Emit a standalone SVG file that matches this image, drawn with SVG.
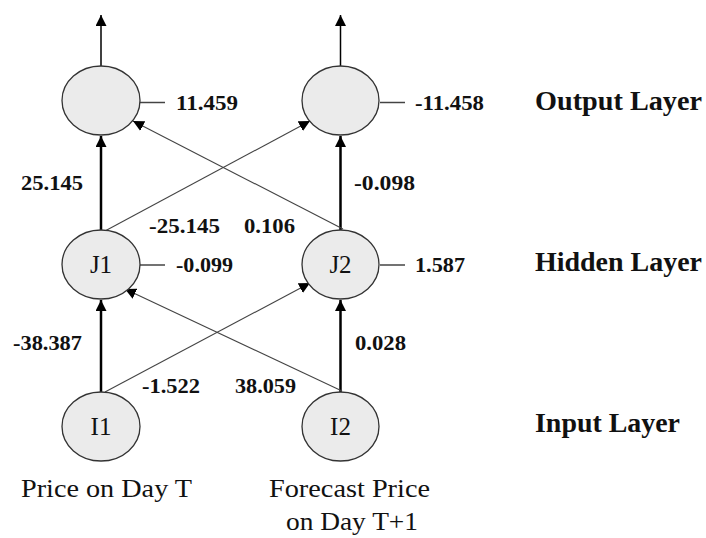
<svg xmlns="http://www.w3.org/2000/svg" width="706" height="538" viewBox="0 0 706 538">
<style>
.node{fill:#ebebeb;stroke:#333;stroke-width:1.3}
.lbl{font-family:'Liberation Serif','Times New Roman',serif;font-size:25px;fill:#111;text-anchor:middle}
.w{font-family:'Liberation Serif','Times New Roman',serif;font-size:21px;font-weight:bold;fill:#111}
.layer{font-family:'Liberation Serif','Times New Roman',serif;font-size:27px;font-weight:bold;fill:#111}
.cap{font-family:'Liberation Serif','Times New Roman',serif;font-size:26px;fill:#111}
.thick{stroke:#000;stroke-width:2.5;fill:none}
.thin{stroke:#444;stroke-width:1.1;fill:none}
.out{stroke:#000;stroke-width:1.5;fill:none}
.bias{stroke:#444;stroke-width:1.5;fill:none}
</style>
<defs>
<marker id="ah" viewBox="0 0 10 10" refX="10" refY="5" markerWidth="11" markerHeight="11" markerUnits="userSpaceOnUse" orient="auto">
<path d="M0,0 L10,5 L0,10 z" fill="#000"/>
</marker>
</defs>
<rect width="706" height="538" fill="#fff"/>
<g id="connectors">
<line class="out" x1="101" y1="66" x2="101" y2="15" marker-end="url(#ah)"/>
<line class="out" x1="340.5" y1="66" x2="340.5" y2="15" marker-end="url(#ah)"/>
<line class="thick" x1="101" y1="230" x2="101" y2="136" marker-end="url(#ah)"/>
<line class="thick" x1="340.5" y1="230" x2="340.5" y2="136" marker-end="url(#ah)"/>
<line class="thin" x1="105" y1="231" x2="310" y2="121" marker-end="url(#ah)"/>
<line class="thin" x1="343" y1="229" x2="133" y2="121" marker-end="url(#ah)"/>
<line class="thick" x1="101" y1="392" x2="101" y2="300" marker-end="url(#ah)"/>
<line class="thick" x1="340.5" y1="392" x2="340.5" y2="300" marker-end="url(#ah)"/>
<line class="thin" x1="105" y1="392" x2="310" y2="283" marker-end="url(#ah)"/>
<line class="thin" x1="342" y1="391" x2="125" y2="289" marker-end="url(#ah)"/>
<line class="bias" x1="140" y1="102.5" x2="165" y2="102.5"/>
<line class="bias" x1="380" y1="102.5" x2="405" y2="102.5"/>
<line class="bias" x1="140" y1="265" x2="165" y2="265"/>
<line class="bias" x1="380" y1="265" x2="405" y2="265"/>
</g>
<g id="O1"><ellipse class="node" cx="101" cy="100.5" rx="39" ry="34.5"/></g>
<g id="O2"><ellipse class="node" cx="340.5" cy="100.5" rx="38.5" ry="34.5"/></g>
<g id="J1"><ellipse class="node" cx="101" cy="264.5" rx="39" ry="34.5"/><text class="lbl" x="101" y="273">J1</text></g>
<g id="J2"><ellipse class="node" cx="340.5" cy="264.5" rx="38.5" ry="34.5"/><text class="lbl" x="340.5" y="273">J2</text></g>
<g id="I1"><ellipse class="node" cx="101" cy="426.5" rx="39" ry="34.5"/><text class="lbl" x="101" y="435">I1</text></g>
<g id="I2"><ellipse class="node" cx="340.5" cy="426.5" rx="38.5" ry="34.5"/><text class="lbl" x="340.5" y="435">I2</text></g>
<g id="weights">
<text class="w" x="176" y="110" textLength="62" lengthAdjust="spacingAndGlyphs">11.459</text>
<text class="w" x="415" y="110" textLength="69" lengthAdjust="spacingAndGlyphs">-11.458</text>
<text class="w" x="21" y="190" textLength="62" lengthAdjust="spacingAndGlyphs">25.145</text>
<text class="w" x="354" y="190" textLength="61" lengthAdjust="spacingAndGlyphs">-0.098</text>
<text class="w" x="149" y="233" textLength="71" lengthAdjust="spacingAndGlyphs">-25.145</text>
<text class="w" x="244" y="233" textLength="51" lengthAdjust="spacingAndGlyphs">0.106</text>
<text class="w" x="176" y="272" textLength="57" lengthAdjust="spacingAndGlyphs">-0.099</text>
<text class="w" x="415" y="272" textLength="50" lengthAdjust="spacingAndGlyphs">1.587</text>
<text class="w" x="13" y="350" textLength="69" lengthAdjust="spacingAndGlyphs">-38.387</text>
<text class="w" x="355" y="350" textLength="51" lengthAdjust="spacingAndGlyphs">0.028</text>
<text class="w" x="142" y="393" textLength="58" lengthAdjust="spacingAndGlyphs">-1.522</text>
<text class="w" x="235" y="393" textLength="61" lengthAdjust="spacingAndGlyphs">38.059</text>
</g>
<g id="layers">
<text class="layer" x="535" y="110" textLength="167" lengthAdjust="spacingAndGlyphs">Output Layer</text>
<text class="layer" x="535" y="271" textLength="167" lengthAdjust="spacingAndGlyphs">Hidden Layer</text>
<text class="layer" x="535" y="432" textLength="145" lengthAdjust="spacingAndGlyphs">Input Layer</text>
</g>
<g id="captions">
<text class="cap" x="21" y="497" textLength="171" lengthAdjust="spacingAndGlyphs">Price on Day T</text>
<text class="cap" x="269" y="497" textLength="161" lengthAdjust="spacingAndGlyphs">Forecast Price</text>
<text class="cap" x="286" y="530" textLength="132" lengthAdjust="spacingAndGlyphs">on Day T+1</text>
</g>
</svg>
